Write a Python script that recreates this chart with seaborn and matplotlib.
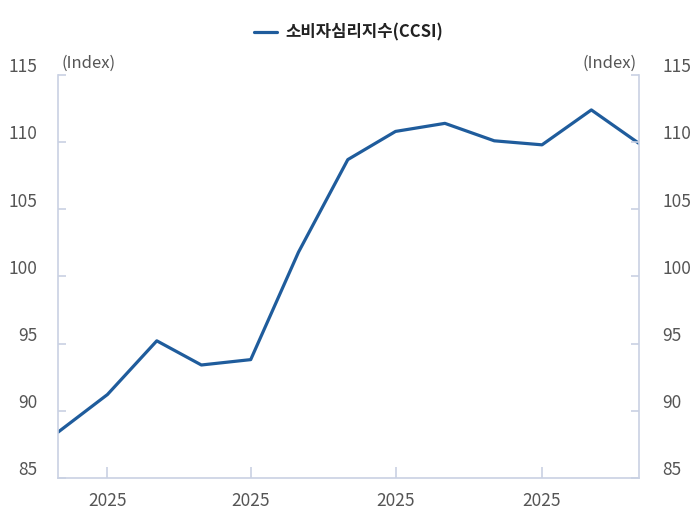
import pandas as pd
import matplotlib.pyplot as plt
import matplotlib.dates as mdates
import matplotlib.transforms as mtransforms
import seaborn as sns

months = pd.date_range("2024-12-01", "2025-12-01", freq="MS")
ccsi = [88.4, 91.2, 95.2, 93.4, 93.8, 101.8, 108.7, 110.8, 111.4, 110.1, 109.8, 112.4, 109.9]
yticks = [85, 90, 95, 100, 105, 110, 115]
xtick_dates = pd.to_datetime(["2025-01-01", "2025-04-01", "2025-07-01", "2025-10-01"])

df = pd.DataFrame({"month": months, "소비자심리지수(CCSI)": ccsi})

sns.set_theme(style="white")
plt.rcParams['font.family'] = ['Noto Sans CJK KR', 'DejaVu Sans']

spine_c = "#c9d1e3"
text_c = "#555555"
line_c = "#1f5c9c"

fig = plt.figure(figsize=(7, 5.21), dpi=100)
ax = fig.add_axes([0.083, 0.083, 0.830, 0.773])

sns.lineplot(data=df, x="month", y="소비자심리지수(CCSI)", ax=ax, color=line_c,
             linewidth=2.3, label="소비자심리지수(CCSI)")

ax.set_xlim(months[0], months[-1])
ax.set_ylim(85, 115)
ax.set_yticks(yticks)
ax.set_xticks(xtick_dates)
ax.xaxis.set_major_formatter(mdates.DateFormatter("%Y"))
ax.set_xlabel("")
ax.set_ylabel("")

for s in ["left", "right", "bottom"]:
    ax.spines[s].set_visible(True)
    ax.spines[s].set_color(spine_c)
    ax.spines[s].set_linewidth(1.2)
ax.spines["top"].set_visible(False)

ax.tick_params(axis="y", direction="in", length=6, width=1.2, color=spine_c,
               labelsize=12.5, labelcolor=text_c, pad=15, left=True)
ax.tick_params(axis="x", direction="in", length=8, width=1.2, color=spine_c,
               labelsize=12.5, labelcolor=text_c, pad=10, bottom=True)

ax2 = ax.twinx()
ax2.set_ylim(85, 115)
ax2.set_yticks(yticks)
for s in ["left", "right", "bottom", "top"]:
    ax2.spines[s].set_visible(False)
ax2.tick_params(axis="y", direction="in", length=6, width=1.2, color=spine_c,
                labelsize=12.5, labelcolor=text_c, pad=17, right=True)

# labels sit a bit above their ticks in the original
offset = mtransforms.ScaledTranslation(0, 7 / 72, fig.dpi_scale_trans)
for lab in ax.get_yticklabels() + ax2.get_yticklabels():
    lab.set_transform(lab.get_transform() + offset)

ax.text(0.005, 1.008, "(Index)", transform=ax.transAxes, ha="left", va="bottom",
        fontsize=12, color=text_c)
ax.text(0.995, 1.008, "(Index)", transform=ax.transAxes, ha="right", va="bottom",
        fontsize=12, color=text_c)

ax.legend(loc="lower center", bbox_to_anchor=(0.5, 1.045), frameon=False,
          fontsize=12, handlelength=1.4, handletextpad=0.5, labelcolor="#222222")
for t in ax.get_legend().get_texts():
    t.set_fontweight("bold")

fig.savefig("out.png", dpi=100)
